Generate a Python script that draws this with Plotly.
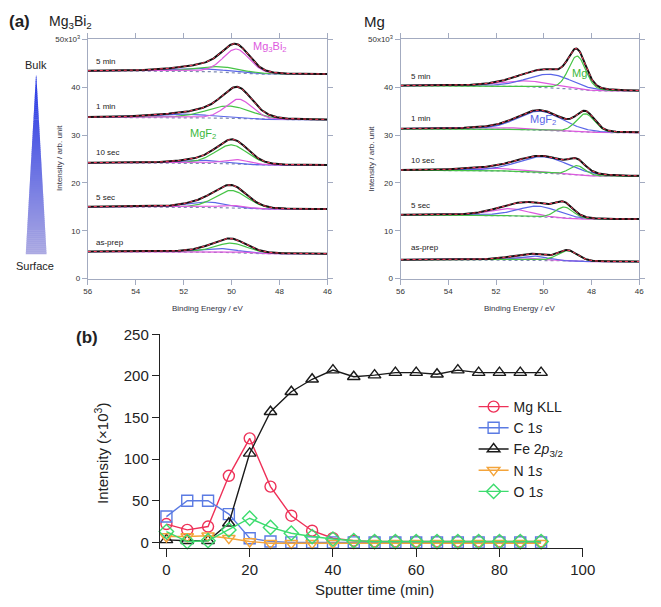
import numpy as np
import plotly.graph_objects as go

# ---------------- DATA ----------------
# (a) XPS Mg 2p region, fitted components (center eV, height x10^3, FWHM eV)
spectra_labels = ["5 min", "1 min", "10 sec", "5 sec", "as-prep"]

# Mg3Bi2 sample
mb_bg_high = [43.4, 33.7, 24.2, 15.0, 5.65]      # background at 56 eV
mb_bg_low = [42.7, 33.2, 23.7, 14.5, 5.2]        # background at 46 eV
mb_mg3bi2_center = [49.8, 49.7, 49.8, 49.9, 49.9]
mb_mg3bi2_height = [5.0, 4.1, 1.0, 0.6, 0.3]
mb_mg3bi2_fwhm = [1.3, 1.3, 1.3, 1.3, 1.3]
mb_mgf2_center = [50.5, 50.1, 50.0, 50.0, 50.0]
mb_mgf2_height = [1.1, 2.6, 4.0, 3.7, 2.0]
mb_mgf2_fwhm = [2.2, 2.2, 1.6, 1.6, 1.6]
mb_other_center = [51.5, 52.0, 51.3, 51.0, 50.5]
mb_other_height = [0.6, 0.7, 0.6, 1.1, 0.8]
mb_other_fwhm = [3.0, 3.0, 2.2, 2.0, 2.0]

# Mg sample
mg_bg_high = [40.3, 31.3, 22.65, 13.3, 3.95]
mg_bg_low = [39.2, 30.5, 21.4, 12.4, 3.55]
mg_metal_center = [48.6, 48.25, 48.6, 49.14, 49.0]
mg_metal_height = [7.0, 3.8, 2.0, 2.4, 2.2]
mg_metal_fwhm = [0.85, 0.9, 0.8, 0.9, 1.0]
mg_mgf2_center = [49.75, 50.15, 50.0, 50.24, 50.45]
mg_mgf2_height = [2.8, 4.0, 3.4, 2.3, 0.9]
mg_mgf2_fwhm = [2.2, 2.2, 2.5, 2.0, 1.4]
mg_other_center = [50.7, 51.5, 52.0, 51.4, 51.0]
mg_other_height = [1.2, 0.3, 0.5, 1.5, 0.5]
mg_other_fwhm = [2.5, 3.0, 3.0, 2.0, 2.0]

energy_ticks = [56, 54, 52, 50, 48, 46]
intensity_ticks = [0, 10, 20, 30, 40, 50]
intensity_ticktext = ["0", "10", "20", "30", "40", "50x10<sup>3</sup>"]

# (b) depth profile
sputter_time = [0, 5, 10, 15, 20, 25, 30, 35, 40, 45, 50, 55, 60, 65, 70, 75, 80, 85, 90]
mg_kll = [22, 15, 19, 80, 125, 67, 32, 14, 5, 2, 1, 1, 1, 1, 1, 1, 1, 1, 1]
c_1s = [31, 50, 50, 34, 5, 1, 0, 0, 0, 0, 0, 0, 0, 0, 0, 0, 0, 0, 0]
fe_2p = [3, 2, 2, 23, 107, 157, 181, 196, 207, 199, 201, 204, 204, 202, 207, 204, 204, 204, 204]
n_1s = [7, 7, 8, 5, 1, -1, -1, -1, -1, -1, -1, -1, -1, -1, -1, -1, -1, -1, -1]
o_1s = [13, 1, 2, 15, 29, 18, 11, 7, 4, 2, 1, 1, 1, 1, 1, 1, 1, 1, 1]
time_ticks = [0, 20, 40, 60, 80, 100]
b_int_ticks = [0, 50, 100, 150, 200, 250]

# ---------------- HELPERS ----------------
W, H = 661, 607
FONT = "Liberation Sans, Arial, Helvetica, sans-serif"
E = np.linspace(56, 46, 301)


def px(x):
    return x / W


def py(y):
    return 1 - y / H


def peak(c, h, fwhm, m=0.2):
    s = fwhm / 2.0
    u = (E - c) / s
    return h * ((1 - m) * np.exp(-np.log(2) * u * u) + m / (1 + u * u))


def shirley(comps, hi, lo):
    tot = sum(comps)
    cum = np.cumsum(tot[::-1])[::-1]  # integral from 46 eV up to E
    frac = cum / cum[0] if cum[0] > 0 else cum
    return lo + (hi - lo) * frac


fig = go.Figure()

C_MAG = "#dd5ade"
C_GRN = "#46c446"
C_BLU = "#5a66e8"
C_BG = "#7f8cb0"


def add_spectrum(xa, ya, hi, lo, comps_colors):
    comps = [peak(*p) for p, _ in comps_colors]
    bg = shirley(comps, hi, lo)
    fig.add_trace(go.Scatter(x=E, y=bg, mode="lines", xaxis=xa, yaxis=ya, showlegend=False,
                             line=dict(color=C_BG, width=1.2, dash="dot")))
    for comp, (_, col) in zip(comps, comps_colors):
        fig.add_trace(go.Scatter(x=E, y=bg + comp, mode="lines", xaxis=xa, yaxis=ya, showlegend=False,
                                 line=dict(color=col, width=1.2)))
    env = bg + sum(comps)
    fig.add_trace(go.Scatter(x=E, y=env, mode="lines", xaxis=xa, yaxis=ya, showlegend=False,
                             line=dict(color="#111111", width=2)))
    fig.add_trace(go.Scatter(x=E, y=env, mode="lines", xaxis=xa, yaxis=ya, showlegend=False,
                             line=dict(color="#ff3b5c", width=1, dash="dot")))


for i in range(5):
    add_spectrum("x", "y", mb_bg_high[i], mb_bg_low[i], [
        ((mb_other_center[i], mb_other_height[i], mb_other_fwhm[i]), C_BLU),
        ((mb_mgf2_center[i], mb_mgf2_height[i], mb_mgf2_fwhm[i]), C_GRN),
        ((mb_mg3bi2_center[i], mb_mg3bi2_height[i], mb_mg3bi2_fwhm[i]), C_MAG),
    ])
    add_spectrum("x2", "y2", mg_bg_high[i], mg_bg_low[i], [
        ((mg_other_center[i], mg_other_height[i], mg_other_fwhm[i]), C_MAG),
        ((mg_mgf2_center[i], mg_mgf2_height[i], mg_mgf2_fwhm[i]), C_BLU),
        ((mg_metal_center[i], mg_metal_height[i], mg_metal_fwhm[i]), C_GRN),
    ])

# (b) traces
series = [
    ("Mg KLL", mg_kll, "#ee3158", "circle-open"),
    ("C 1<i>s</i>", c_1s, "#5b7be3", "square-open"),
    ("Fe 2<i>p</i><sub>3/2</sub>", fe_2p, "#1a1a1a", "triangle-up-open"),
    ("N 1<i>s</i>", n_1s, "#f4a43a", "triangle-down-open"),
    ("O 1<i>s</i>", o_1s, "#3ddc6e", "diamond-open"),
]
for name, vals, col, sym in series:
    fig.add_trace(go.Scatter(x=sputter_time, y=vals, mode="lines+markers", name=name,
                             xaxis="x3", yaxis="y3", cliponaxis=False,
                             line=dict(color=col, width=1.4),
                             marker=dict(symbol=sym, size=11, color=col, line=dict(width=1.4, color=col))))

# ---------------- AXES ----------------
AX_COL = "#a3abc0"
top_dom_y = [py(276), py(31)]


def top_x(dom):
    return dict(domain=dom, range=[56, 46], showline=True, linecolor=AX_COL, linewidth=1,
                mirror="ticks", ticks="outside", ticklen=5, tickcolor=AX_COL,
                tickvals=energy_ticks, tickfont=dict(size=8, color="#333", family=FONT),
                showgrid=False, zeroline=False)


def top_y(dom):
    return dict(domain=dom, range=[0, 50], showline=True, linecolor=AX_COL, linewidth=1,
                mirror="ticks", ticks="outside", ticklen=5, tickcolor=AX_COL,
                tickvals=intensity_ticks, ticktext=intensity_ticktext,
                tickfont=dict(size=8, color="#333", family=FONT),
                showgrid=False, zeroline=False)


xa1 = top_x([px(86), px(332)]); xa1["anchor"] = "y"
ya1 = top_y(top_dom_y); ya1["anchor"] = "x"
xa2 = top_x([px(407), px(652)]); xa2["anchor"] = "y2"
ya2 = top_y(top_dom_y); ya2["anchor"] = "x2"

fig.update_layout(
    width=W, height=H, margin=dict(l=0, r=0, t=0, b=0),
    paper_bgcolor="white", plot_bgcolor="white",
    font=dict(family=FONT, color="#222"),
    xaxis=xa1, yaxis=ya1, xaxis2=xa2, yaxis2=ya2,
    xaxis3=dict(domain=[px(160), px(594)], range=[-1.57, 100], anchor="y3",
                showline=True, linecolor="#222", linewidth=1.3, ticks="outside", ticklen=8,
                tickcolor="#222", tickwidth=1.3, tickvals=time_ticks,
                tickfont=dict(size=15, color="#222", family=FONT), showgrid=False, zeroline=False),
    yaxis3=dict(domain=[py(551.5), py(333)], range=[-6.5, 250], anchor="x3",
                showline=True, linecolor="#222", linewidth=1.3, ticks="outside", ticklen=7,
                tickcolor="#222", tickwidth=1.3, tickvals=b_int_ticks,
                tickfont=dict(size=15, color="#222", family=FONT), showgrid=False, zeroline=False),
    legend=dict(x=px(482), y=py(391), xanchor="left", yanchor="top",
                font=dict(size=14, color="#222", family=FONT), bgcolor="rgba(0,0,0,0)",
                tracegroupgap=0, itemwidth=30),
    showlegend=True,
)

# ---------------- TEXT ----------------
ann = []


def text(x, y, s, size, color="#222", xref="paper", yref="paper", xanchor="center", yanchor="middle",
         angle=0):
    ann.append(dict(x=x, y=y, text=s, xref=xref, yref=yref, showarrow=False, xanchor=xanchor,
                    yanchor=yanchor, textangle=angle, font=dict(size=size, color=color, family=FONT)))


text(px(3), py(13), "<b>(a)</b>", 17, xanchor="left")
text(px(44), py(13), "Mg<sub>3</sub>Bi<sub>2</sub>", 14, xanchor="left")
text(px(367), py(13), "Mg", 15, xanchor="left")
text(px(72), py(336), "<b>(b)</b>", 17, xanchor="left")
text(px(33), py(57), "Bulk", 11)
text(px(32), py(263), "Surface", 11)

text(px(57), py(153), "Intensity / arb. unit", 8, color="#334", angle=-90)
text(px(377), py(153), "Intensity / arb. unit", 8, color="#334", angle=-90)
text(px(209), py(307), "Binding Energy / eV", 8, color="#334")
text(px(529), py(307), "Binding Energy / eV", 8, color="#334")

text(px(100), py(455), "Intensity (×10<sup>3</sup>)", 15, angle=-90)
text(px(380), py(594), "Sputter time (min)", 15)

left_label_y = [45.3, 35.9, 26.4, 17.0, 7.6]
right_label_y = [42.2, 33.5, 24.6, 15.3, 6.5]
for lab, yl, yr in zip(spectra_labels, left_label_y, right_label_y):
    text(55.75, yl, lab, 8, color="#222", xref="x", yref="y", xanchor="left")
    text(55.63, yr, lab, 8, color="#222", xref="x2", yref="y2", xanchor="left")

text(48.4, 48.3, "Mg<sub>3</sub>Bi<sub>2</sub>", 11, color=C_MAG, xref="x", yref="y")
text(51.2, 30.2, "MgF<sub>2</sub>", 11, color="#3cb83c", xref="x", yref="y")
text(48.5, 42.9, "Mg", 11, color="#3cb83c", xref="x2", yref="y2")
text(50.04, 33.2, "MgF<sub>2</sub>", 11, color=C_BLU, xref="x2", yref="y2")

fig.update_layout(annotations=ann)

# gradient triangle (Bulk -> Surface)
shapes = []
N = 90
y_top, y_bot, xc, half = 68.0, 251.0, 33.0, 10.5
c_top = np.array([34, 52, 230])
c_bot = np.array([172, 170, 226])
for k in range(N):
    y0 = y_top + (y_bot - y_top) * k / N
    y1 = y_top + (y_bot - y_top) * (k + 1) / N + 0.5
    w0 = half * (y0 - y_top) / (y_bot - y_top) + 0.2
    w1 = half * min(1.0, (y1 - y_top) / (y_bot - y_top)) + 0.2
    t = (k + 0.5) / N
    c = (c_top * (1 - t) + c_bot * t).astype(int)
    col = f"rgb({c[0]},{c[1]},{c[2]})"
    path = (f"M {px(xc - w0)} {py(y0)} L {px(xc + w0)} {py(y0)} "
            f"L {px(xc + w1)} {py(min(y1, y_bot))} L {px(xc - w1)} {py(min(y1, y_bot))} Z")
    shapes.append(dict(type="path", path=path, xref="paper", yref="paper",
                       fillcolor=col, line=dict(width=0)))
fig.update_layout(shapes=shapes)

fig.write_html("out.html")
